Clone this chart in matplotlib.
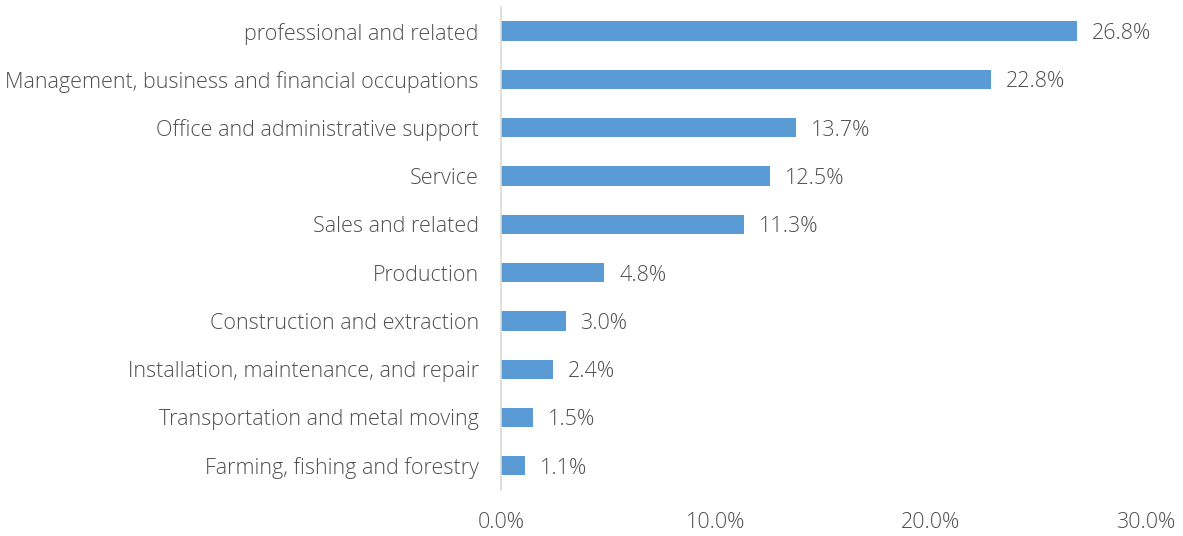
import matplotlib.pyplot as plt
from matplotlib.ticker import FuncFormatter

categories = [
    "professional and related",
    "Management, business and financial occupations",
    "Office and administrative support",
    "Service",
    "Sales and related",
    "Production",
    "Construction and extraction",
    "Installation, maintenance, and repair",
    "Transportation and metal moving",
    "Farming, fishing and forestry",
]
shares = [26.8, 22.8, 13.7, 12.5, 11.3, 4.8, 3.0, 2.4, 1.5, 1.1]
x_ticks = [0, 10, 20, 30]

text_color = "#505050"
font_size = 15.5
plt.rcParams["font.family"] = ["Open Sans", "DejaVu Sans"]

fig = plt.figure(figsize=(11.83, 5.36), dpi=100)
ax = fig.add_axes([501 / 1183, 0.086, 645 / 1183, 0.901])

y = list(range(len(categories)))
ax.barh(y, shares, height=0.4, color="#5B9BD5")
for yi, v in zip(y, shares):
    ax.text(v + 0.7, yi, f"{v:.1f}%", va="center_baseline", ha="left",
            fontsize=font_size, color=text_color, fontweight="light")

ax.set_yticks(y)
ax.set_yticklabels(categories)
ax.set_ylim(len(categories) - 0.5, -0.5)
ax.set_xlim(0, 30)
ax.set_xticks(x_ticks)
ax.xaxis.set_major_formatter(FuncFormatter(lambda v, _: f"{v:.1f}%"))

for side in ["top", "right", "bottom"]:
    ax.spines[side].set_visible(False)
ax.spines["left"].set_color("#D9D9D9")
ax.spines["left"].set_linewidth(1.2)
ax.tick_params(axis="both", length=0, labelsize=font_size, colors=text_color)
ax.tick_params(axis="y", pad=16)
ax.tick_params(axis="x", pad=16)
for lbl in ax.get_xticklabels() + ax.get_yticklabels():
    lbl.set_fontweight("light")

fig.savefig("out.png", dpi=100)
